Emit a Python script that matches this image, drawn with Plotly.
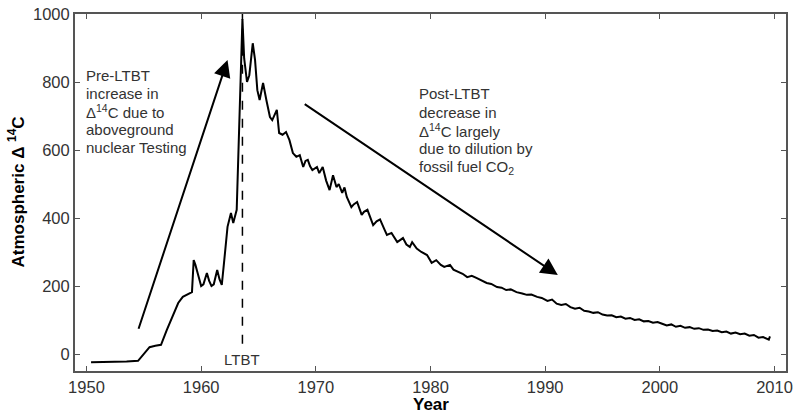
import plotly.graph_objects as go

years = [1950.4, 1951.5, 1952.5, 1953.5, 1954.5, 1955.0, 1955.5, 1956.0, 1956.5, 1957.0,
         1957.5, 1958.0, 1958.4, 1959.0, 1959.2, 1959.35, 1959.5, 1959.8, 1960.0, 1960.2,
         1960.5, 1960.7, 1960.9, 1961.1, 1961.4, 1961.6, 1961.8, 1962.0, 1962.3, 1962.6,
         1962.8, 1963.1, 1963.6, 1963.75, 1964.0, 1964.2, 1964.5, 1964.7, 1964.9, 1965.1,
         1965.4, 1965.7, 1966.0, 1966.2, 1966.6, 1966.8, 1967.1, 1967.4, 1967.7, 1968.0,
         1968.3, 1968.6, 1968.9, 1969.1, 1969.3, 1969.5, 1969.7, 1970.1, 1970.3, 1970.6,
         1970.9, 1971.2, 1971.5, 1971.8, 1972.0, 1972.3, 1972.5, 1972.7, 1973.1, 1973.3,
         1973.6, 1974.0, 1974.2, 1974.5, 1974.8, 1975.0, 1975.3, 1975.6, 1976.0, 1976.2,
         1976.6, 1977.1, 1977.6, 1977.9, 1978.2, 1978.4, 1978.8, 1979.2, 1979.7, 1980.1,
         1980.5, 1980.9, 1981.2, 1981.7, 1982.0, 1982.4, 1982.8, 1983.2, 1983.6, 1984.0,
         1984.4, 1984.9, 1985.3, 1985.8, 1986.2, 1986.6, 1987.0, 1987.5, 1988.0, 1988.4,
         1988.8, 1989.3, 1989.7, 1990.2, 1990.6, 1991.0, 1991.4, 1991.8, 1992.2, 1992.6,
         1993.0, 1993.4, 1993.8, 1994.2, 1994.6, 1995.0, 1995.4, 1995.8, 1996.2, 1996.6,
         1997.0, 1997.4, 1997.8, 1998.2, 1998.6, 1999.0, 1999.4, 1999.8, 2000.2, 2000.6,
         2001.0, 2001.4, 2001.8, 2002.2, 2002.6, 2003.0, 2003.4, 2003.8, 2004.2, 2004.6,
         2005.0, 2005.4, 2005.8, 2006.2, 2006.6, 2007.0, 2007.4, 2007.8, 2008.2, 2008.6,
         2009.0, 2009.3, 2009.5, 2009.6]

delta14c = [-24, -24, -24, -22, -20, 0, 20, 24, 27, 70,
            110, 150, 168, 180, 182, 276, 262, 225, 200, 205,
            238, 215, 200, 205, 247, 220, 203, 270, 374, 415,
            385, 424, 985, 870, 800, 820, 914, 865, 776, 747,
            797, 745, 697, 688, 718, 650, 645, 653, 629, 591,
            580, 585, 550, 568, 571, 552, 541, 550, 532, 550,
            510, 482, 526, 491, 500, 474, 490, 462, 432, 440,
            447, 409, 418, 424, 395, 379, 390, 396, 365, 350,
            356, 329, 341, 322, 315, 329, 310, 300, 291, 268,
            276, 262, 256, 262, 248, 241, 236, 226, 230, 224,
            218, 209, 206, 197, 195, 188, 190, 182, 178, 174,
            175, 168, 165, 156, 160, 148, 144, 147, 138, 133,
            136, 127, 125, 121, 123, 116, 113, 114, 108, 110,
            104, 106, 100, 102, 96, 97, 92, 94, 89, 84,
            87, 80, 83, 77, 79, 74, 76, 71, 72, 68,
            69, 64, 66, 60, 63, 58, 60, 54, 56, 48,
            50, 44, 42, 52]

ltbt_year = 1963.6
x_ticks = [1950, 1960, 1970, 1980, 1990, 2000, 2010]
y_ticks = [0, 200, 400, 600, 800, 1000]

pre_lines = ["Pre-LTBT", "increase in", "Δ<sup>14</sup>C due to", "aboveground",
             "nuclear Testing"]
post_lines = ["Post-LTBT", "decrease in", "Δ<sup>14</sup>C largely", "due to dilution by",
              "fossil fuel CO<sub>2</sub>"]

FONT = "Arial, Liberation Sans, sans-serif"
TXT = "#333333"

fig = go.Figure()
fig.add_trace(go.Scatter(x=years, y=delta14c, mode="lines",
                         line=dict(color="black", width=2), showlegend=False,
                         hoverinfo="skip"))
fig.add_trace(go.Scatter(x=[ltbt_year, ltbt_year], y=[30, 1000], mode="lines",
                         line=dict(color="black", width=1.5, dash="dash"),
                         showlegend=False, hoverinfo="skip"))

annotations = [
    dict(x=1962.3, y=865, ax=1954.5, ay=70, xref="x", yref="y", axref="x", ayref="y",
         showarrow=True, arrowhead=2, arrowsize=1.7, arrowwidth=2, arrowcolor="black",
         text=""),
    dict(x=1991.1, y=232, ax=1968.9, ay=738, xref="x", yref="y", axref="x", ayref="y",
         showarrow=True, arrowhead=2, arrowsize=1.7, arrowwidth=2, arrowcolor="black",
         text=""),
    dict(x=ltbt_year, y=-15, xref="x", yref="y", showarrow=False, text="LTBT",
         font=dict(family=FONT, size=15, color=TXT)),
    dict(x=0.5, y=0, xref="paper", yref="paper", yanchor="middle", yshift=-33,
         showarrow=False, text="<b>Year</b>",
         font=dict(family=FONT, size=17, color="black")),
    dict(x=0, y=0.5, xref="paper", yref="paper", xanchor="center", xshift=-59, yshift=0,
         textangle=-90, showarrow=False, text="<b>Atmospheric Δ <sup>14</sup>C</b>",
         font=dict(family=FONT, size=17, color="black")),
]

for i, line in enumerate(pre_lines):
    annotations.append(dict(x=1949.75, y=820, xref="x", yref="y", xanchor="left",
                            yanchor="middle", yshift=-18 * i, showarrow=False,
                            align="left", text=line,
                            font=dict(family=FONT, size=15, color=TXT)))
for i, line in enumerate(post_lines):
    annotations.append(dict(x=1978.8, y=765, xref="x", yref="y", xanchor="left",
                            yanchor="middle", yshift=-18.3 * i, showarrow=False,
                            align="left", text=line,
                            font=dict(family=FONT, size=15, color=TXT)))

axis_common = dict(showline=True, linecolor="#555555", linewidth=2, mirror="ticks",
                   ticks="inside", ticklen=5, tickcolor="#555555", tickwidth=1,
                   showgrid=False, zeroline=False, automargin=False,
                   tickfont=dict(family=FONT, size=16.5, color=TXT))

fig.update_layout(
    width=798, height=416,
    margin=dict(l=75, r=12, t=14, b=45),
    plot_bgcolor="white", paper_bgcolor="white",
    xaxis=dict(range=[1949, 2011], tickvals=x_ticks, **axis_common),
    yaxis=dict(range=[-50, 1000], tickvals=y_ticks, **axis_common),
    annotations=annotations,
)

fig.write_html("out.html", config={"displayModeBar": False},
               post_script="document.body.style.margin='0';document.body.style.overflow='hidden';")
